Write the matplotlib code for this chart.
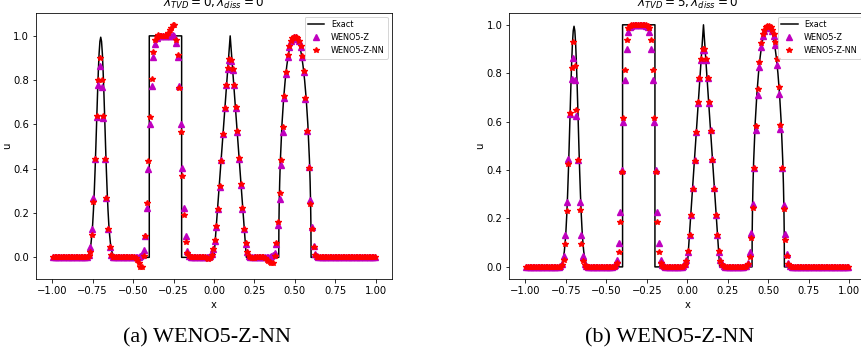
import numpy as np
import matplotlib
matplotlib.use("Agg")
import matplotlib.pyplot as plt

# grid of cell centres (dx = 0.01)
x = np.linspace(-0.995, 0.995, 200)

# exact solution pieces
gauss_x = np.linspace(-0.8, -0.6, 41)
gauss_u = [0.0005, 0.001, 0.002, 0.004, 0.008, 0.014, 0.024, 0.040, 0.064, 0.100,
           0.148, 0.213, 0.294, 0.391, 0.501, 0.618, 0.733, 0.837, 0.921, 0.975,
           0.994, 0.975, 0.921, 0.837, 0.733, 0.618, 0.501, 0.391, 0.294, 0.213,
           0.148, 0.100, 0.064, 0.040, 0.024, 0.014, 0.008, 0.004, 0.002, 0.001, 0.0005]
ellipse_x = [0.4, 0.401, 0.403, 0.406, 0.41, 0.42, 0.43, 0.44, 0.45, 0.46, 0.47, 0.48, 0.49,
             0.5, 0.51, 0.52, 0.53, 0.54, 0.55, 0.56, 0.57, 0.58, 0.59, 0.594, 0.597, 0.599, 0.6]
ellipse_u = [0.0, 0.141, 0.243, 0.341, 0.436, 0.6, 0.714, 0.8, 0.866, 0.917, 0.954, 0.98, 0.995,
             1.0, 0.995, 0.98, 0.954, 0.917, 0.866, 0.8, 0.714, 0.6, 0.436, 0.341, 0.243, 0.141, 0.0]
exact_x = [-1.0] + list(gauss_x) + [-0.4, -0.4, -0.2, -0.2, 0.0, 0.1, 0.2] + ellipse_x + [1.0]
exact_u = [0.0] + gauss_u + [0.0, 1.0, 1.0, 0.0, 0.0, 1.0, 0.0] + ellipse_u + [0.0]

# first cell of each window (outside them u = 0)
gauss_start = -0.795
square_start = -0.495
tri_start = -0.045
ell_start = 0.305

# (a) lambda_TVD = 0
z_a_gauss = [0.0, 0.003, 0.012, 0.045, 0.13, 0.27, 0.445, 0.635, 0.78, 0.865,
             0.77, 0.63, 0.445, 0.27, 0.13, 0.045, 0.012, 0.003, 0.0]
nn_a_gauss = [0.0, 0.0, 0.005, 0.025, 0.10, 0.25, 0.445, 0.64, 0.80, 0.90,
              0.80, 0.64, 0.445, 0.27, 0.13, 0.045, 0.012, 0.003, 0.0]
z_a_square = [0.0, 0.0, 0.001, 0.002, 0.006, 0.012, 0.033, 0.095, 0.225, 0.40,
              0.60, 0.775, 0.905, 0.965, 0.99, 0.998, 1.0, 1.0, 0.998, 1.0,
              1.0, 1.0, 0.998, 1.0, 1.003, 0.998, 0.97, 0.905, 0.775, 0.60,
              0.405, 0.225, 0.098, 0.028, 0.008, 0.002, 0.0]
nn_a_square = [0.0, -0.005, -0.012, -0.027, -0.042, -0.043, 0.008, 0.095, 0.245, 0.437,
               0.635, 0.805, 0.925, 0.98, 0.995, 1.005, 1.0, 0.998, 1.0, 0.998,
               1.0, 1.012, 1.025, 1.035, 1.05, 1.05, 0.98, 0.915, 0.765, 0.565,
               0.366, 0.19, 0.068, 0.018, 0.005, 0.001, 0.0]
z_a_tri = [0.0, 0.001, 0.004, 0.015, 0.04, 0.075, 0.135, 0.218, 0.318, 0.44,
           0.558, 0.675, 0.776, 0.85, 0.89, 0.885, 0.845, 0.776, 0.676, 0.565,
           0.445, 0.325, 0.22, 0.128, 0.062, 0.022, 0.008, 0.002, 0.0, 0.0]
nn_a_tri = [-0.003, -0.006, -0.005, 0.01, 0.036, 0.08, 0.14, 0.22, 0.32, 0.435,
            0.555, 0.675, 0.776, 0.855, 0.895, 0.89, 0.85, 0.78, 0.68, 0.57,
            0.45, 0.33, 0.222, 0.128, 0.063, 0.022, 0.008, 0.0, -0.003, -0.005]
z_a_ell = [0.0, 0.0, 0.001, 0.002, 0.003, 0.006, 0.01, 0.02, 0.06, 0.145,
           0.265, 0.415, 0.565, 0.72, 0.828, 0.905, 0.95, 0.975, 0.988, 0.993,
           0.993, 0.988, 0.975, 0.95, 0.905, 0.835, 0.715, 0.57, 0.41, 0.26,
           0.135, 0.05, 0.015, 0.004, 0.001, 0.0, 0.0]
nn_a_ell = [0.0, -0.003, -0.01, -0.015, -0.02, -0.027, -0.025, 0.005, 0.063, 0.16,
            0.29, 0.44, 0.587, 0.73, 0.835, 0.915, 0.955, 0.978, 0.99, 0.995,
            0.995, 0.99, 0.978, 0.955, 0.91, 0.84, 0.72, 0.57, 0.405, 0.243,
            0.13, 0.045, 0.012, 0.003, 0.0, 0.0, 0.0]

# (b) lambda_TVD = 5
z_b_gauss = [0.0, 0.002, 0.012, 0.044, 0.131, 0.27, 0.447, 0.632, 0.778, 0.864,
             0.77, 0.625, 0.44, 0.27, 0.13, 0.044, 0.012, 0.003, 0.0]
nn_b_gauss = [0.0, 0.001, 0.006, 0.028, 0.094, 0.23, 0.424, 0.634, 0.82, 0.927,
              0.83, 0.65, 0.44, 0.237, 0.094, 0.024, 0.006, 0.001, 0.0]
z_b_square = [0.0, 0.0, 0.0, 0.001, 0.002, 0.008, 0.027, 0.097, 0.225, 0.40,
              0.597, 0.774, 0.902, 0.971, 0.99, 0.997, 1.0, 1.0, 1.0, 1.0,
              1.0, 1.0, 1.0, 1.0, 0.997, 0.99, 0.971, 0.902, 0.774, 0.597,
              0.40, 0.225, 0.097, 0.027, 0.008, 0.002, 0.0]
nn_b_square = [0.0, 0.0, 0.0, 0.0, 0.001, 0.004, 0.018, 0.063, 0.186, 0.39,
               0.613, 0.813, 0.937, 0.985, 0.997, 1.0, 1.0, 1.0, 1.0, 1.0,
               1.0, 1.0, 1.0, 1.0, 1.0, 0.997, 0.985, 0.937, 0.813, 0.613,
               0.39, 0.186, 0.06, 0.015, 0.004, 0.001, 0.0]
z_b_tri = [0.0, 0.0, 0.003, 0.01, 0.028, 0.063, 0.13, 0.215, 0.324, 0.44,
           0.558, 0.678, 0.78, 0.854, 0.896, 0.896, 0.854, 0.78, 0.678, 0.565,
           0.445, 0.325, 0.215, 0.13, 0.063, 0.028, 0.01, 0.003, 0.0, 0.0]
nn_b_tri = [0.0, 0.0, 0.002, 0.007, 0.025, 0.065, 0.13, 0.216, 0.322, 0.438,
            0.556, 0.68, 0.782, 0.858, 0.9, 0.9, 0.858, 0.782, 0.68, 0.562,
            0.443, 0.323, 0.216, 0.13, 0.065, 0.025, 0.007, 0.002, 0.0, 0.0]
z_b_ell = [0.0, 0.0, 0.0, 0.0, 0.001, 0.002, 0.005, 0.018, 0.06, 0.14,
           0.26, 0.41, 0.565, 0.71, 0.826, 0.909, 0.955, 0.975, 0.987, 0.99,
           0.99, 0.987, 0.975, 0.955, 0.916, 0.835, 0.716, 0.57, 0.41, 0.257,
           0.135, 0.052, 0.016, 0.004, 0.001, 0.0, 0.0]
nn_b_ell = [0.0, 0.0, 0.0, 0.0, 0.0, 0.001, 0.003, 0.01, 0.042, 0.12,
            0.245, 0.41, 0.58, 0.735, 0.847, 0.925, 0.962, 0.98, 0.99, 0.993,
            0.993, 0.99, 0.98, 0.962, 0.93, 0.857, 0.745, 0.585, 0.41, 0.24,
            0.11, 0.045, 0.01, 0.002, 0.0, 0.0, 0.0]

titles = [r"$\lambda_{TVD} = 0, \lambda_{diss} = 0$", r"$\lambda_{TVD} = 5, \lambda_{diss} = 0$"]
captions = ["(a) WENO5-Z-NN", "(b) WENO5-Z-NN"]
xticks = [-1.0, -0.75, -0.5, -0.25, 0.0, 0.25, 0.5, 0.75, 1.0]
yticks = [0.0, 0.2, 0.4, 0.6, 0.8, 1.0]


def build(gauss, square, tri, ell):
    u = np.zeros_like(x)
    for start, vals in ((gauss_start, gauss), (square_start, square), (tri_start, tri), (ell_start, ell)):
        i0 = int(round((start - x[0]) / 0.01))
        u[i0:i0 + len(vals)] = vals
    return u


z_a = build(z_a_gauss, z_a_square, z_a_tri, z_a_ell)
nn_a = build(nn_a_gauss, nn_a_square, nn_a_tri, nn_a_ell)
z_b = build(z_b_gauss, z_b_square, z_b_tri, z_b_ell)
nn_b = build(nn_b_gauss, nn_b_square, nn_b_tri, nn_b_ell)

# the subfigures were matplotlib defaults shrunk to ~72 dpi
s = 0.72
plt.rcParams.update({
    "font.size": 10 * s,
    "axes.titlesize": 12 * s,
    "axes.titlepad": 6 * s,
    "axes.labelpad": 4 * s,
    "axes.linewidth": 0.8 * s,
    "lines.linewidth": 1.5 * s,
    "lines.markersize": 5.5 * s,
    "xtick.major.size": 3.5 * s,
    "ytick.major.size": 3.5 * s,
    "xtick.major.width": 0.8 * s,
    "ytick.major.width": 0.8 * s,
    "xtick.major.pad": 3.5 * s,
    "ytick.major.pad": 3.5 * s,
    "legend.fontsize": 8.2 * s,
    "patch.linewidth": 1.0 * s,
})

fig = plt.figure(figsize=(8.61, 3.56), dpi=100)
W, H = 861, 356
boxes = [(36, 12.7, 356, 266.3), (509.3, 12.7, 356, 266.3)]
data = [(z_a, nn_a), (z_b, nn_b)]
cap_x = [207, 670]

for k in range(2):
    l, t, w, h = boxes[k]
    ax = fig.add_axes([l / W, 1 - (t + h) / H, w / W, h / H])
    ax.plot(exact_x, exact_u, "k-", label="Exact")
    ax.plot(x, data[k][0], "m^", label="WENO5-Z")
    ax.plot(x, data[k][1], "r*", label="WENO5-Z-NN")
    ax.set_xticks(xticks)
    ax.set_yticks(yticks)
    ax.set_xlabel("x")
    ax.set_ylabel("u", labelpad=1)
    ax.set_title(titles[k])
    ax.legend(loc="upper right")
    fig.text(cap_x[k] / W, 1 - 338 / H, captions[k], ha="center", va="center",
             family="Liberation Serif", fontsize=16)

fig.savefig("out.png", dpi=100)
